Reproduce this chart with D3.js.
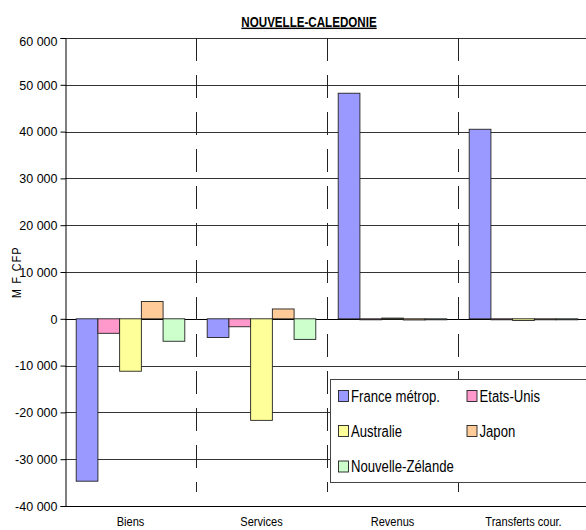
<!DOCTYPE html>
<html>
<head>
<meta charset="utf-8">
<script src="https://cdn.jsdelivr.net/npm/d3@7"></script>
<style>
  html, body { margin: 0; padding: 0; background: #fff; }
  svg { display: block; }
  text { font-family: "Liberation Sans", Arial, sans-serif; fill: #000; }
</style>
</head>
<body>
<svg id="chart" width="586" height="530"></svg>
<script>
const categories = ["Biens", "Services", "Revenus", "Transferts cour."];
const seriesNames = ["France métrop.", "Etats-Unis", "Australie", "Japon", "Nouvelle-Zélande"];
const france    = [-34700, -4000, 48200, 40500];
const etatsUnis = [-3100, -1700, -100, -100];
const australie = [-11200, -21700, 150, -350];
const japon     = [3700, 2100, -250, -200];
const nz        = [-4800, -4400, -150, -100];
const yTicks = [-40000, -30000, -20000, -10000, 0, 10000, 20000, 30000, 40000, 50000, 60000];
const colors = ["#9999FF", "#FF99CC", "#FFFF99", "#FFCC99", "#CCFFCC"];

const seriesValues = [france, etatsUnis, australie, japon, nz];
const NARROW = 0.82;

const svg = d3.select("#chart");
const pLeft = 65, pRight = 589, pTop = 38, pBottom = 506;

const x = d3.scaleBand().domain(categories).range([pLeft, pRight]).padding(0);
const bw = x.bandwidth();
const x1 = d3.scaleBand().domain(seriesNames).range([bw * 0.0855, bw * (1 - 0.0855)]).padding(0);
const y = d3.scaleLinear().domain([-40000, 60000]).range([pBottom, pTop]);

const fmt = v => (v < 0 ? "-" : "") + d3.format(",")(Math.abs(v)).replace(/,/g, " ");

// gridlines
svg.append("g").selectAll("line").data(yTicks.filter(t => t !== -40000)).join("line")
  .attr("x1", pLeft).attr("x2", 586)
  .attr("y1", d => Math.round(y(d)) + 0.5).attr("y2", d => Math.round(y(d)) + 0.5)
  .attr("stroke", d => d === 0 ? "#000" : "#333").attr("stroke-width", 1);

// dashed category separators
svg.append("g").selectAll("line").data(categories.slice(1)).join("line")
  .attr("x1", d => Math.round(x(d)) + 0.5).attr("x2", d => Math.round(x(d)) + 0.5)
  .attr("y1", pTop).attr("y2", 492)
  .attr("stroke", "#222").attr("stroke-width", 1).attr("stroke-dasharray", "23,14");

// bars
const gBars = svg.append("g");
seriesNames.forEach((s, i) => {
  gBars.append("g").selectAll("rect").data(categories.map((c, j) => ({c, v: seriesValues[i][j]}))).join("rect")
    .attr("x", d => x(d.c) + x1(s))
    .attr("y", d => y(Math.max(0, d.v)))
    .attr("width", x1.bandwidth())
    .attr("height", d => Math.max(1, Math.abs(y(d.v) - y(0))))
    .attr("fill", colors[i])
    .attr("stroke", "#222").attr("stroke-width", 0.9);
});

// axes
const yAxis = d3.axisLeft(y).tickValues(yTicks).tickFormat(fmt).tickSize(5).tickPadding(3);
const ga = svg.append("g").attr("transform", `translate(${pLeft + 0.5},0)`).call(yAxis);
ga.select(".domain").attr("stroke", "#000");
ga.selectAll("text").style("font-size", "12.5px").style("font-family", "Liberation Sans")
  .attr("dy", d => d === 60000 ? "0.62em" : "0.34em");

svg.append("line").attr("x1", pLeft).attr("x2", 586).attr("y1", pBottom + 0.5).attr("y2", pBottom + 0.5)
  .attr("stroke", "#000").attr("stroke-width", 1.2);

const xAxis = d3.axisBottom(x).tickSize(0).tickPadding(10);
const gx = svg.append("g").attr("transform", `translate(0,${pBottom})`).call(xAxis);
gx.select(".domain").remove();
gx.selectAll("text").style("font-size", "13.5px").style("font-family", "Liberation Sans")
  .attr("transform", `scale(${NARROW},1)`);

// y label
svg.append("text").attr("transform", `translate(21,272) rotate(-90) scale(${NARROW},1)`)
  .attr("text-anchor", "middle").style("font-size", "13px")
  .style("letter-spacing", "1.6px").text("M F CFP");

// title
svg.append("text").attr("transform", `translate(309,26.5) scale(0.8,1)`).attr("text-anchor", "middle")
  .style("font-size", "14.5px").style("font-weight", "bold").style("text-decoration", "underline")
  .text("NOUVELLE-CALEDONIE");

// legend
const lg = svg.append("g");
lg.append("rect").attr("x", 330.5).attr("y", 379.5).attr("width", 262).attr("height", 103)
  .attr("fill", "#fff").attr("stroke", "#444").attr("stroke-width", 1);
const pos = [[338.5, 396], [467, 396], [338.5, 431], [467, 431], [338.5, 466.5]];
seriesNames.forEach((s, i) => {
  const [lx, ly] = pos[i];
  lg.append("rect").attr("x", lx).attr("y", ly - 5.5).attr("width", 10).attr("height", 11)
    .attr("fill", colors[i]).attr("stroke", "#222").attr("stroke-width", 0.9);
  lg.append("text").attr("transform", `translate(${lx + 12.5},${ly + 5.5}) scale(${NARROW},1)`)
    .style("font-size", "16px").text(s);
});
</script>
</body>
</html>
